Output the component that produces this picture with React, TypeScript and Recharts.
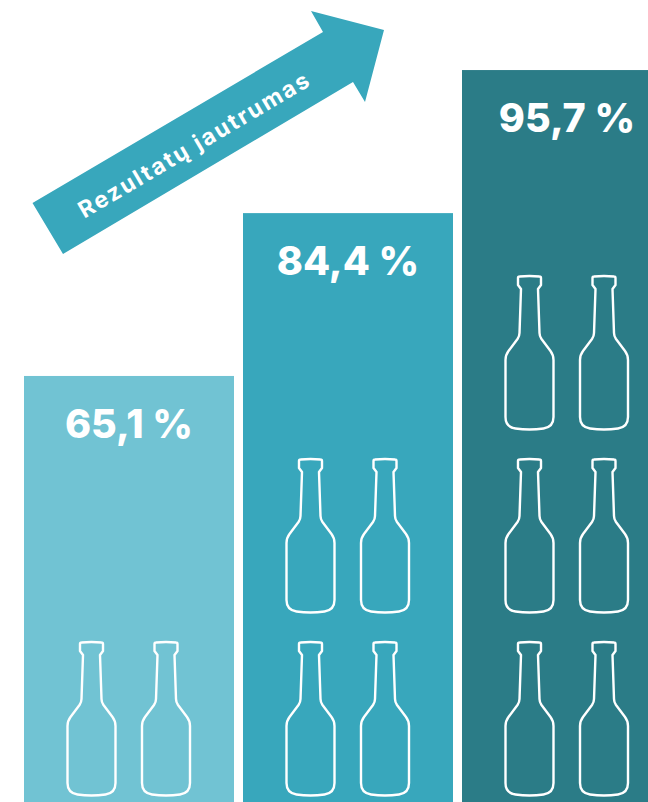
import { BarChart, Bar, XAxis, YAxis, LabelList } from "recharts";

const groups = ["A", "B", "C"];
const sensitivity = [65.1, 84.4, 95.7];
const bottleRows = [1, 2, 3];
const barColors = ["#71c3d3", "#38a7bc", "#2b7c87"];

const data = groups.map((name, i) => ({
  name,
  value: sensitivity[i],
  rows: bottleRows[i],
  fill: barColors[i],
}));

const W = 680;
const H = 802;

// bars are deliberately not proportional: the upper end of the axis is stretched
const stretch = (v: number) => (v * (6.446 + 1.6 * Math.pow(v / 100, 6.5))) / H;

function stretchedScale() {
  let dom: number[] = [0, 100];
  let rng: number[] = [H, 0];
  const s: any = (v: number) => rng[0] + stretch(v) * (rng[1] - rng[0]);
  s.domain = (d?: number[]) => {
    if (!d) return dom;
    dom = d;
    return s;
  };
  s.range = (r?: number[]) => {
    if (!r) return rng;
    rng = r;
    return s;
  };
  s.copy = () => stretchedScale().domain(dom).range(rng);
  s.ticks = () => dom;
  return s;
}

const BOTTLE =
  "M-8.5 13 L-10 57 Q-10 60 -12 63 L-21 75 Q-24 79 -24 84 L-24 141 Q-24 151 -14 152.5 Q0 154.5 14 152.5 Q24 151 24 141 L24 84 Q24 79 21 75 L12 63 Q10 60 10 57 L8.5 13 L10 11 L11.5 9 L11.5 2 Q11.5 0.5 10 0.5 Q0 -0.5 -10 0.5 Q-11.5 0.5 -11.5 2 L-11.5 9 L-10 11 Z";

const BottleBar = (props: any) => {
  const { x, y, width, height, payload } = props;
  const base = y + height;
  const rows = Array.from({ length: payload.rows }, (_, r) => r);
  return (
    <g>
      <rect x={x} y={y} width={width} height={height} fill={payload.fill} />
      {rows.map((r) =>
        [67.5, 142].map((dx) => (
          <path
            key={`${r}-${dx}`}
            d={BOTTLE}
            transform={`translate(${x + dx},${base - 160 - r * 183})`}
            fill="none"
            stroke="#fff"
            strokeWidth={2.4}
            strokeLinejoin="round"
          />
        ))
      )}
    </g>
  );
};

const formatPct = (v: any) => `${String(v).replace(".", ",")} %`;

const App = () => (
  <div style={{ position: "absolute", left: 0, top: 0, width: 648, height: 802, overflow: "hidden", background: "#fff" }}>
    <BarChart width={W} height={H} data={data} margin={{ top: 0, right: 4, bottom: 0, left: 19 }}>
      <XAxis dataKey="name" hide />
      <YAxis type="number" hide domain={[0, 100]} scale={stretchedScale() as any} />
      <Bar dataKey="value" barSize={210} shape={<BottleBar />} isAnimationActive={false}>
        <LabelList
          dataKey="value"
          position="insideTop"
          offset={34}
          formatter={formatPct}
          fill="#fff"
          fontFamily="Inter, sans-serif"
          fontWeight={800}
          fontSize={39.5}
        />
      </Bar>
      <g>
        <polygon points="32.5,203 323,32 311,11 384,30 365,102 353,82 63,254" fill="#38a7bc" />
        <text
          x={198.5}
          y={151.5}
          transform="rotate(-30.5 198.5 151.5)"
          textAnchor="middle"
          fill="#fff"
          fontFamily="Inter, sans-serif"
          fontWeight={700}
          fontSize={23}
          letterSpacing={2.1}
        >
          Rezultatų jautrumas
        </text>
      </g>
    </BarChart>
  </div>
);

export default App;
